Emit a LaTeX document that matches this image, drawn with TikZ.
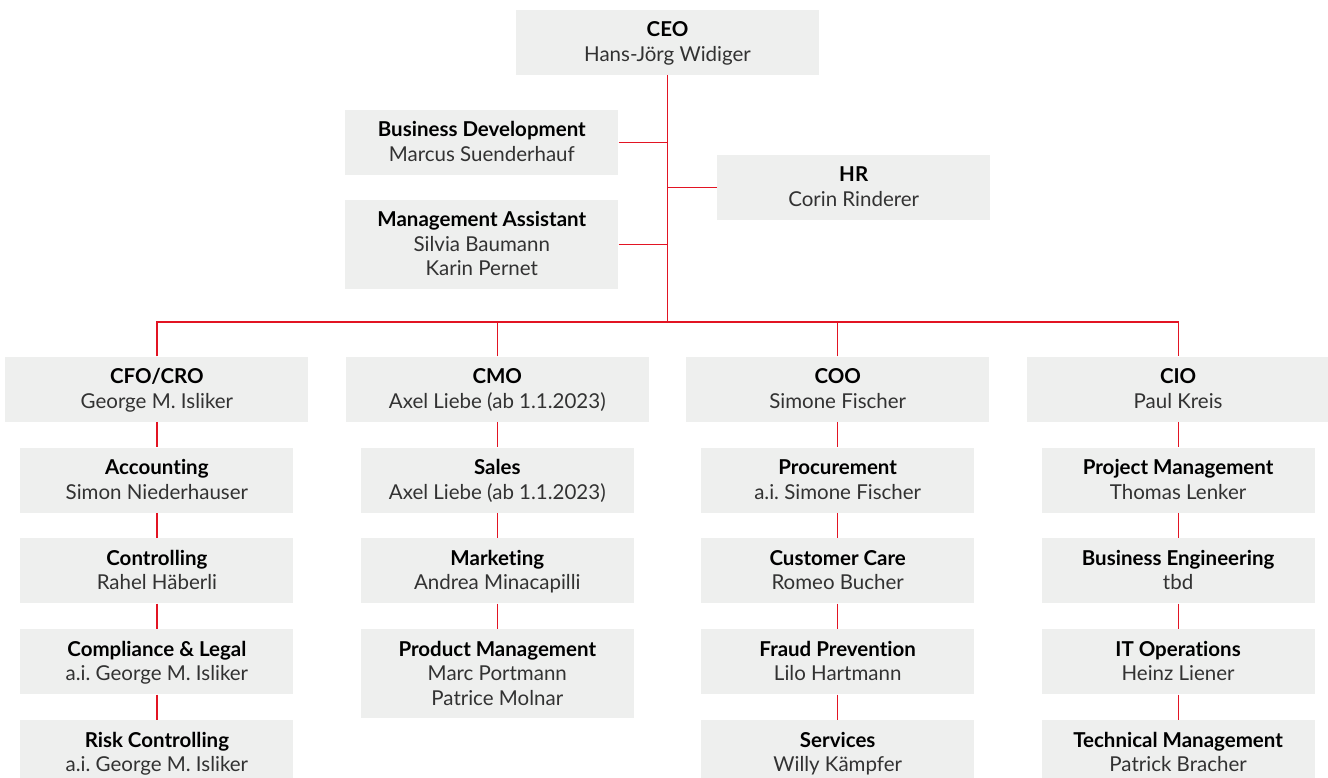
\documentclass[tikz,border=0pt]{standalone}
\usepackage{fontspec}
\setmainfont{Lato}[Ligatures=NoCommon]
\usepackage{tikz}
\usetikzlibrary{
  	positioning,
  	calc
  }
\definecolor{boxgray}{RGB}{238,239,238}
\definecolor{linkred}{RGB}{226,20,35}
\definecolor{namegray}{RGB}{50,50,50}
\newcommand{\unit}[2]{\rule{0pt}{18pt}\textcolor{black}{\textbf{#1}}\\#2\rule[-4.5pt]{0pt}{4.5pt}}

\begin{document}
\begin{tikzpicture}[
	box/.style={fill=boxgray, text=namegray, inner sep=0pt, minimum width=273pt, minimum height=65pt,
		align=center, font=\fontsize{20.5pt}{24.5pt}\selectfont\frenchspacing},
	head/.style={box, minimum width=303pt},
	tall/.style={minimum height=89pt},
	link/.style={draw=linkred, line width=1.2pt}]
	\useasboundingbox (0,0) rectangle (1328pt,-778pt);
%
	\node[head] (ceo) at (667.5pt,-42.25pt) {\unit{CEO}{Hans-Jörg Widiger}};
	\node[box, below left=34.5pt and 49pt of ceo.south] (bd) {\unit{Business Development}{Marcus Suenderhauf}};
	\node[box, tall, below=25pt of bd] (ma) {\unit{Management Assistant}{Silvia Baumann\\Karin Pernet}};
	\node[box, below right=79.5pt and 49.5pt of ceo.south] (hr) {\unit{HR}{Corin Rinderer}};
%
	\node[head, below left=281.5pt and 18.5pt of ceo.south] (cmo) {\unit{CMO}{Axel Liebe (ab 1.1.2023)}};
	\node[head, below right=281.5pt and 18.5pt of ceo.south] (coo) {\unit{COO}{Simone Fischer}};
	\node[head, left=37pt of cmo] (cfo) {\unit{CFO/CRO}{George M. Isliker}};
	\node[head, right=37pt of coo] (cio) {\unit{CIO}{Paul Kreis}};
%
	\node[box, below=25.5pt of cfo] (cfo1) {\unit{Accounting}{Simon Niederhauser}};
	\node[box, below=25.5pt of cfo1] (cfo2) {\unit{Controlling}{Rahel Häberli}};
	\node[box, below=25.5pt of cfo2] (cfo3) {\unit{Compliance \& Legal}{a.i. George M. Isliker}};
	\node[box, below=25.5pt of cfo3] (cfo4) {\unit{Risk Controlling}{a.i. George M. Isliker}};
%
	\node[box, below=25.5pt of cmo] (cmo1) {\unit{Sales}{Axel Liebe (ab 1.1.2023)}};
	\node[box, below=25.5pt of cmo1] (cmo2) {\unit{Marketing}{Andrea Minacapilli}};
	\node[box, tall, below=25.5pt of cmo2] (cmo3) {\unit{Product Management}{Marc Portmann\\Patrice Molnar}};
%
	\node[box, below=25.5pt of coo] (coo1) {\unit{Procurement}{a.i. Simone Fischer}};
	\node[box, below=25.5pt of coo1] (coo2) {\unit{Customer Care}{Romeo Bucher}};
	\node[box, below=25.5pt of coo2] (coo3) {\unit{Fraud Prevention}{Lilo Hartmann}};
	\node[box, below=25.5pt of coo3] (coo4) {\unit{Services}{Willy Kämpfer}};
%
	\node[box, below=25.5pt of cio] (cio1) {\unit{Project Management}{Thomas Lenker}};
	\node[box, below=25.5pt of cio1] (cio2) {\unit{Business Engineering}{tbd}};
	\node[box, below=25.5pt of cio2] (cio3) {\unit{IT Operations}{Heinz Liener}};
	\node[box, below=25.5pt of cio3] (cio4) {\unit{Technical Management}{Patrick Bracher}};
%
	\coordinate[above=34.5pt of cfo.north] (busL);
	\coordinate[above=34.5pt of cio.north] (busR);
	\draw[link] (ceo.south) -- (ceo.south |- busL);
	\draw[link] (bd.east) -- (bd.east -| ceo.south);
	\draw[link] (ma.east) -- (ma.east -| ceo.south);
	\draw[link] (hr.west) -- (hr.west -| ceo.south);
	\draw[link] (cfo.north) -- (busL) -- (busR) -- (cio.north);
	\draw[link] (cmo.north) -- (cmo.north |- busL);
	\draw[link] (coo.north) -- (coo.north |- busL);
	\foreach \a/\b in {cfo/cfo1, cfo1/cfo2, cfo2/cfo3, cfo3/cfo4, cmo/cmo1, cmo1/cmo2, cmo2/cmo3,
		coo/coo1, coo1/coo2, coo2/coo3, coo3/coo4, cio/cio1, cio1/cio2, cio2/cio3, cio3/cio4}
		\draw[link] (\a.south) -- (\b.north);
\end{tikzpicture}
\end{document}
